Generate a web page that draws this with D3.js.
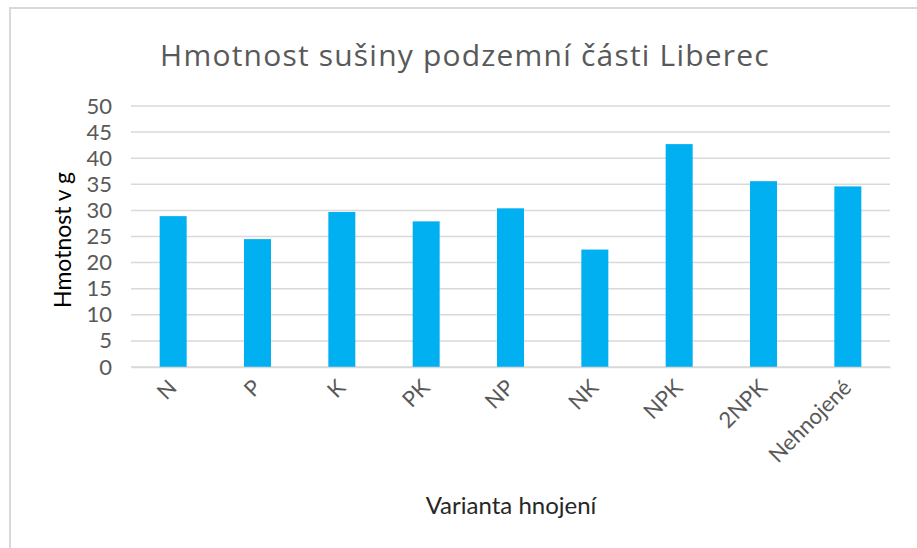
<!DOCTYPE html>
<html>
<head>
<meta charset="utf-8">
<script src="https://cdn.jsdelivr.net/npm/d3@7"></script>
<style>
  html, body { margin: 0; padding: 0; background: #fff; }
  svg text { font-family: Lato, "Open Sans", sans-serif; }
</style>
</head>
<body>
<div id="chart"></div>
<script>
const categories = ['N', 'P', 'K', 'PK', 'NP', 'NK', 'NPK', '2NPK', 'Nehnojené'];
const values = [28.9, 24.5, 29.7, 27.9, 30.4, 22.5, 42.7, 35.6, 34.6];
const yTicks = [0, 5, 10, 15, 20, 25, 30, 35, 40, 45, 50];

const W = 917, H = 548;
const margin = {top: 106, right: 27, bottom: 181, left: 131};
const width = W - margin.left - margin.right;
const height = H - margin.top - margin.bottom;

const svg = d3.select('#chart')
  .append('svg')
  .attr('width', W)
  .attr('height', H);

// chart frame
svg.append('rect')
  .attr('x', 10).attr('y', 8)
  .attr('width', W + 20).attr('height', H + 20)
  .attr('fill', '#fff')
  .attr('stroke', '#d9d9d9')
  .attr('stroke-width', 2);

const g = svg.append('g')
  .attr('transform', `translate(${margin.left},${margin.top})`);

// Scales
const x = d3.scaleBand()
  .domain(categories)
  .range([0, width])
  .paddingInner(0.68)
  .paddingOuter(0.34);

const y = d3.scaleLinear()
  .domain([0, 50])
  .range([height, 0]);

// gridlines
g.append('g')
  .selectAll('line')
  .data(yTicks)
  .enter()
  .append('line')
  .attr('x1', 0).attr('x2', width)
  .attr('y1', d => y(d)).attr('y2', d => y(d))
  .attr('stroke', '#d9d9d9')
  .attr('stroke-width', 1.5);

// bars
g.selectAll('rect.bar')
  .data(values)
  .enter()
  .append('rect')
  .attr('class', 'bar')
  .attr('x', (d, i) => x(categories[i]))
  .attr('y', d => y(d))
  .attr('width', x.bandwidth())
  .attr('height', d => height - y(d))
  .attr('fill', '#00b0f0');

// y axis
const yAxis = g.append('g')
  .call(d3.axisLeft(y).tickValues(yTicks).tickSize(0).tickPadding(19));
yAxis.select('.domain').remove();
yAxis.selectAll('text')
  .attr('fill', '#595959')
  .style('font-size', '22px');

// x axis
const xAxis = g.append('g')
  .attr('transform', `translate(0,${height})`)
  .call(d3.axisBottom(x).tickSize(0).tickPadding(0));
xAxis.select('.domain')
  .attr('stroke', '#d9d9d9')
  .attr('stroke-width', 1.5);
xAxis.selectAll('text')
  .attr('fill', '#595959')
  .style('font-size', '22px')
  .style('text-anchor', 'end')
  .attr('dy', 0)
  .attr('y', 0)
  .attr('transform', 'translate(5,22) rotate(-45)');

// title
svg.append('text')
  .attr('x', 465)
  .attr('y', 66)
  .attr('text-anchor', 'middle')
  .attr('fill', '#595959')
  .style('font-family', '"Open Sans", sans-serif')
  .style('letter-spacing', '1.2px')
  .style('font-size', '30px')
  .text('Hmotnost sušiny podzemní části Liberec');

// axis titles
svg.append('text')
  .attr('transform', 'translate(71,240) rotate(-90)')
  .attr('text-anchor', 'middle')
  .attr('fill', '#000')
  .style('font-size', '23px')
  .text('Hmotnost v g');

svg.append('text')
  .attr('x', 511)
  .attr('y', 514)
  .attr('text-anchor', 'middle')
  .attr('fill', '#262626')
  .style('font-size', '24px')
  .text('Varianta hnojení');
</script>
</body>
</html>
